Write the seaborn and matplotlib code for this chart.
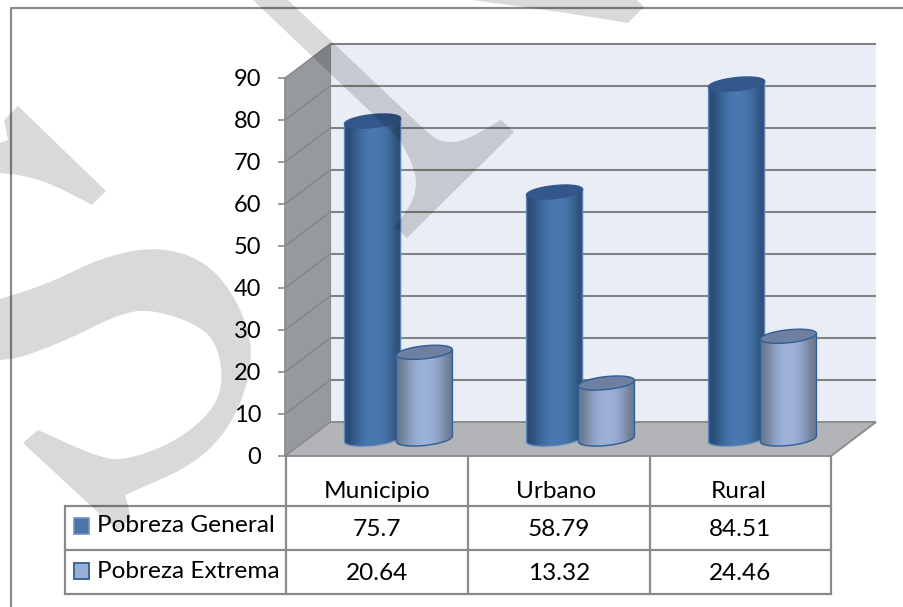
import numpy as np
import pandas as pd
import matplotlib
matplotlib.use("Agg")
import matplotlib.pyplot as plt
from matplotlib.patches import Polygon, Rectangle
import seaborn as sns

categories = ["Municipio", "Urbano", "Rural"]
series_names = ["Pobreza General", "Pobreza Extrema"]
pobreza_general = [75.7, 58.79, 84.51]
pobreza_extrema = [20.64, 13.32, 24.46]
table_general = ["75.7", "58.79", "84.51"]
table_extrema = ["20.64", "13.32", "24.46"]
y_ticks = [0, 10, 20, 30, 40, 50, 60, 70, 80, 90]

W, H = 904, 607
GRAY = "#8a8a8a"
FONT = ["Lato", "DejaVu Sans"]
TXT = 17.6


# cuts corners, used only to round the watermark outlines
def smooth(pts, n=3):
    pts = np.array(pts, dtype=float)
    for _ in range(n):
        a, b = pts[:-1], pts[1:]
        pts = np.vstack([pts[0], np.column_stack([.75*a + .25*b, .25*a + .75*b]).reshape(-1, 2), pts[-1]])
    return pts


sns.set_theme(style="white")
plt.rcParams["font.family"] = FONT
fig = plt.figure(figsize=(W/100, H/100), dpi=100, facecolor="white")

# layer in pixel coords for the chart frame
bg = fig.add_axes([0, 0, 1, 1], zorder=1)
bg.set_xlim(0, W)
bg.set_ylim(H, 0)
bg.axis("off")

# outer border, only top and left show
bg.plot([904, 11, 11], [8, 8, 607], color=GRAY, lw=1.6)

# walls and floor
bg.add_patch(Polygon([(330, 44), (876, 44), (876, 422), (330, 422)], fc="#e9edf6", ec="none"))
bg.add_patch(Polygon([(285, 78), (330, 44), (330, 422), (285, 456)], fc="#96999d", ec="none"))
bg.add_patch(Polygon([(285, 456), (330, 422), (876, 422), (831, 456)], fc="#b2b4b7", ec="#8c8c8c", lw=1.4))

for v in y_ticks[1:]:
    yb = 422 - v*4.2
    bg.plot([330, 876], [yb, yb], color="#828282", lw=1.5, solid_capstyle="butt")
    bg.plot([285, 330], [yb + 34, yb], color="#828282", lw=0.9)
bg.plot([330, 330], [44, 422], color="#8c8c8c", lw=0.8)

# data table below the chart
for yy in [506, 550, 594]:
    bg.plot([65, 831], [yy, yy], color=GRAY, lw=1.6, solid_capstyle="projecting")
bg.plot([65, 65], [506, 594], color=GRAY, lw=1.6)
for xx in [286, 468, 650, 831]:
    bg.plot([xx, xx], [456, 594], color=GRAY, lw=1.6)

head_x = [377, 556, 739]
col_x = [377, 559, 740]
for i, name in enumerate(categories):
    bg.text(head_x[i], 492, name, ha="center", va="center", fontsize=TXT, color="black")
    bg.text(col_x[i], 529, table_general[i], ha="center", va="center", fontsize=TXT, color="black")
    bg.text(col_x[i], 574, table_extrema[i], ha="center", va="center", fontsize=TXT, color="black")

bg.add_patch(Rectangle((74, 518), 15.5, 15.5, fc="#4a76ac", ec="#6d94c0", lw=1.2))
bg.add_patch(Rectangle((74, 563), 15.5, 15.5, fc="#98aed6", ec="#3c6699", lw=1.4))
bg.text(97, 526, series_names[0], ha="left", va="center", fontsize=TXT, color="black")
bg.text(97, 572, series_names[1], ha="left", va="center", fontsize=TXT, color="black")

# value axis on the front edge of the side wall
ax_y = fig.add_axes([285/W, 1 - 456/H, 1/W, 378/H], zorder=2)
ax_y.patch.set_visible(False)
ax_y.set_ylim(0, 90)
ax_y.set_yticks(y_ticks)
ax_y.set_xticks([])
ax_y.tick_params(axis="y", left=True, length=5.2, width=1.2, color=GRAY, labelsize=17, pad=12, labelcolor="black")
for s in ax_y.spines.values():
    s.set_visible(False)
ax_y.spines["left"].set_visible(True)
ax_y.spines["left"].set_color(GRAY)
ax_y.spines["left"].set_linewidth(1.2)

# bars, one value unit is 4.2 px and one category 182 px
df = pd.DataFrame({
    "categoria": categories * 2,
    "serie": [series_names[0]]*3 + [series_names[1]]*3,
    "valor": pobreza_general + pobreza_extrema,
})
ax = fig.add_axes([0, 0, 1, 1], zorder=3)
sns.barplot(data=df, x="categoria", y="valor", hue="serie", order=categories,
            hue_order=series_names, width=0.57, gap=-0.08, legend=False, ax=ax,
            palette=["#4a76ac", "#98aed6"])
xlim = (-398.5/182, (W - 398.5)/182)
ylim = ((439 - H)/4.2, 439/4.2)

body_cols = {
    0: ["#2a4c76", "#35608f", "#4270a6", "#4a78b0", "#4a78b0", "#4573aa", "#3a6595", "#2b4d75"],
    1: ["#687790", "#8191ae", "#94a8cf", "#9db2da", "#9db2da", "#96aad1", "#8495b3", "#6a7890"],
}
top_cols = {0: "#33578a", 1: "#6e7fa2"}
edge_cols = {0: "#5b85b8", 1: "#2f5f96"}
top_edges = {0: "#33578a", 1: "#2f5f96"}

t = np.linspace(0, 2*np.pi, 90)
semi_y = 6.5/4.2
shear = 2.8/4.2
for k, cont in enumerate(ax.containers):
    grad = np.array([matplotlib.colors.to_rgb(c) for c in body_cols[k]])[None, :, :]
    for bar in cont:
        x0, w, v = bar.get_x(), bar.get_width(), bar.get_height()
        cx = x0 + w/2
        bar.set_visible(False)
        ex = cx + w/2*np.cos(t)
        off = semi_y*np.sin(t) + shear*np.cos(t)
        # body outline: top end straight across, bottom end half ellipse
        tb = np.linspace(np.pi, 2*np.pi, 45)
        lo_x = cx + w/2*np.cos(tb)
        lo_y = semi_y*np.sin(tb) + shear*np.cos(tb)
        outline = np.vstack([[x0, v - shear], np.column_stack([lo_x, lo_y]), [x0 + w, v + shear]])
        body = Polygon(outline, closed=True, fc="none", ec=edge_cols[k], lw=1.0, zorder=5 + k)
        ax.add_patch(body)
        im = ax.imshow(grad, extent=(x0, x0 + w, -10, v + 5), aspect="auto",
                       interpolation="bicubic", zorder=4 + k)
        im.set_clip_path(body)
        ax.fill(ex, v + off, fc=top_cols[k], ec=top_edges[k], lw=1.0, zorder=5 + k)

ax.set_xlim(*xlim)
ax.set_ylim(*ylim)
ax.axis("off")
ax.patch.set_visible(False)

# grey watermark over everything
wm = fig.add_axes([0, 0, 1, 1], zorder=4)
wm.set_xlim(0, W)
wm.set_ylim(H, 0)
wm.axis("off")
wm.patch.set_visible(False)
shapes = [
    np.vstack([[(253, 0), (288, 0)],
               smooth([(425, 130), (437, 140), (452, 143), (470, 138), (501, 120)]),
               [(514, 132), (407, 238), (395, 227)],
               smooth([(395, 227), (414, 200), (417, 177), (408, 155), (400, 140)])]),
    np.array([(472, 0), (637, 0), (644, 7), (628, 23), (560, 12)]),
    np.vstack([[(18, 106), (106, 191), (92, 205)],
               smooth([(92, 205), (50, 183), (20, 175), (0, 173)]),
               [(0, 143), (8, 140), (4, 120)]]),
    np.vstack([smooth([(0, 299), (50, 283), (100, 258), (155, 246), (205, 260), (238, 300),
                       (255, 353), (238, 415), (200, 462), (125, 495)]),
               [(131, 517), (118, 531), (23, 443), (38, 430)],
               smooth([(38, 430), (100, 458), (127, 460), (175, 442), (212, 412), (224, 380),
                       (215, 338), (187, 320), (147, 309), (117, 315), (67, 340), (20, 358), (0, 360)])]),
]
for pts in shapes:
    wm.add_patch(Polygon(pts, closed=True, fc="black", ec="none", alpha=0.15))

fig.savefig("out.png", dpi=100)
